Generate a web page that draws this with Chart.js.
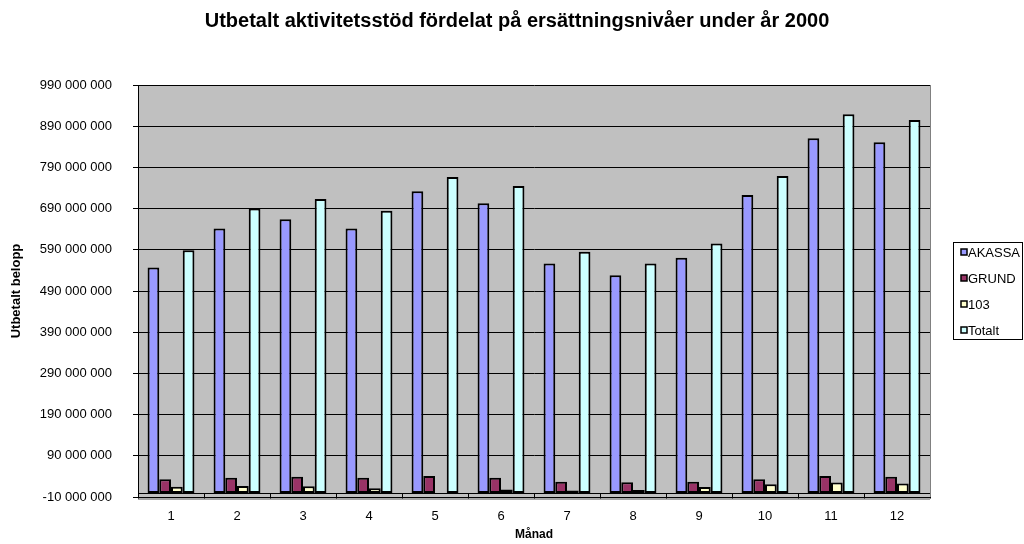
<!DOCTYPE html>
<html>
<head>
<meta charset="utf-8">
<script src="https://cdn.jsdelivr.net/npm/chart.js@4.4.0/dist/chart.umd.min.js"></script>
<style>
  html, body { margin: 0; padding: 0; background: #fff; }
</style>
</head>
<body>
<canvas id="chart" width="1024" height="544"></canvas>
<script>
const months = ['1', '2', '3', '4', '5', '6', '7', '8', '9', '10', '11', '12'];
const seriesNames = ['AKASSA', 'GRUND', '103', 'Totalt'];
const akassa = [547000000, 642000000, 664000000, 642000000, 732000000, 703000000, 557000000, 528000000, 571000000, 723000000, 861000000, 851000000];
const grund = [33000000, 37000000, 39000000, 37000000, 41000000, 37000000, 27000000, 26000000, 27000000, 33000000, 41000000, 39000000];
const niva103 = [15000000, 17000000, 16000000, 11000000, -3000000, 8000000, 6000000, 7000000, 14000000, 21000000, 25000000, 23000000];
const totalt = [589000000, 690000000, 713000000, 685000000, 767000000, 745000000, 585000000, 557000000, 605000000, 769000000, 919000000, 905000000];
const yTicks = [-10000000, 90000000, 190000000, 290000000, 390000000, 490000000, 590000000, 690000000, 790000000, 890000000, 990000000];

const colors = ['#9999ff', '#993366', '#ffffcc', '#ccffff'];
const FONT = '"Liberation Sans", Arial, sans-serif';

function fmt(v) {
  return String(v).replace(/\B(?=(\d{3})+(?!\d))/g, ' ');
}

const plotFrame = {
  id: 'plotFrame',
  beforeDraw(chart) {
    const { ctx, chartArea: a } = chart;
    ctx.save();
    ctx.fillStyle = '#c0c0c0';
    ctx.fillRect(a.left, a.top, a.right - a.left, a.bottom - a.top);
    ctx.fillStyle = '#a6a6a6';
    ctx.fillRect(a.left, a.bottom, a.right - a.left, 3);
    ctx.restore();
  },
  afterDatasetsDraw(chart) {
    const { ctx, chartArea: a, scales: { y } } = chart;
    const y0 = Math.round(y.getPixelForValue(0)) + 0.5;
    const step = (a.right - a.left) / months.length;
    ctx.save();
    ctx.strokeStyle = '#000';
    ctx.lineWidth = 1;
    ctx.beginPath();
    ctx.moveTo(a.left, y0);
    ctx.lineTo(a.right, y0);
    for (let i = 0; i <= months.length; i++) {
      const px = Math.round(a.left + i * step) + 0.5;
      ctx.moveTo(px, y0);
      ctx.lineTo(px, y0 + 5);
    }
    ctx.stroke();
    ctx.strokeStyle = '#808080';
    ctx.beginPath();
    ctx.moveTo(a.right + 0.5, a.top);
    ctx.lineTo(a.right + 0.5, a.bottom);
    ctx.stroke();
    ctx.restore();
  },
  afterDraw(chart) {
    const ctx = chart.ctx;
    ctx.save();
    // title
    ctx.fillStyle = '#000';
    ctx.font = 'bold 20px ' + FONT;
    ctx.textAlign = 'center';
    ctx.textBaseline = 'middle';
    ctx.fillText('Utbetalt aktivitetsstöd fördelat på ersättningsnivåer under år 2000', 517, 21);

    // legend
    ctx.fillStyle = '#fff';
    ctx.fillRect(953.5, 242.5, 69, 97);
    ctx.strokeStyle = '#000';
    ctx.lineWidth = 1;
    ctx.strokeRect(953.5, 242.5, 69, 97);
    ctx.font = '13px ' + FONT;
    ctx.textAlign = 'left';
    chart.data.datasets.forEach((ds, i) => {
      const cy = 252 + i * 26;
      ctx.fillStyle = ds.backgroundColor;
      ctx.fillRect(961, cy - 3, 6, 6);
      ctx.lineWidth = 1.5;
      ctx.strokeRect(961, cy - 3, 6, 6);
      ctx.fillStyle = '#000';
      ctx.fillText(ds.label, 968, cy + 1);
    });
    ctx.restore();
  }
};

const seriesData = [akassa, grund, niva103, totalt];

new Chart(document.getElementById('chart'), {
  type: 'bar',
  data: {
    labels: months,
    datasets: seriesNames.map((name, i) => ({
      label: name,
      data: seriesData[i],
      backgroundColor: colors[i],
      borderColor: '#000',
      borderWidth: 2,
      borderSkipped: false,
      barPercentage: 1,
      categoryPercentage: 0.71
    }))
  },
  options: {
    responsive: false,
    animation: false,
    layout: { padding: { top: 85, right: 94, left: 0, bottom: 0 } },
    plugins: {
      legend: { display: false },
      title: { display: false },
      tooltip: { enabled: false }
    },
    scales: {
      x: {
        afterFit: s => { s.height = 47; },
        grid: { display: false, drawTicks: false },
        border: { display: false },
        ticks: { color: '#000', font: { family: FONT, size: 13 }, padding: 12 },
        title: {
          display: true, text: 'Månad', color: '#000',
          font: { family: FONT, size: 12, weight: 'bold' },
          padding: { top: 0, bottom: 2 }
        }
      },
      y: {
        min: -10000000,
        max: 990000000,
        afterBuildTicks: s => { s.ticks = yTicks.map(v => ({ value: v })); },
        afterFit: s => { s.width = 138; },
        grid: { color: '#000', lineWidth: 1, tickLength: 5 },
        border: { color: '#000', width: 1 },
        ticks: { color: '#000', font: { family: FONT, size: 13 }, padding: 21, callback: v => fmt(v) },
        title: {
          display: true, text: 'Utbetalt belopp', color: '#000',
          font: { family: FONT, size: 13, weight: 'bold' },
          padding: { top: 9, bottom: 0 }
        }
      }
    }
  },
  plugins: [plotFrame]
});
</script>
</body>
</html>
